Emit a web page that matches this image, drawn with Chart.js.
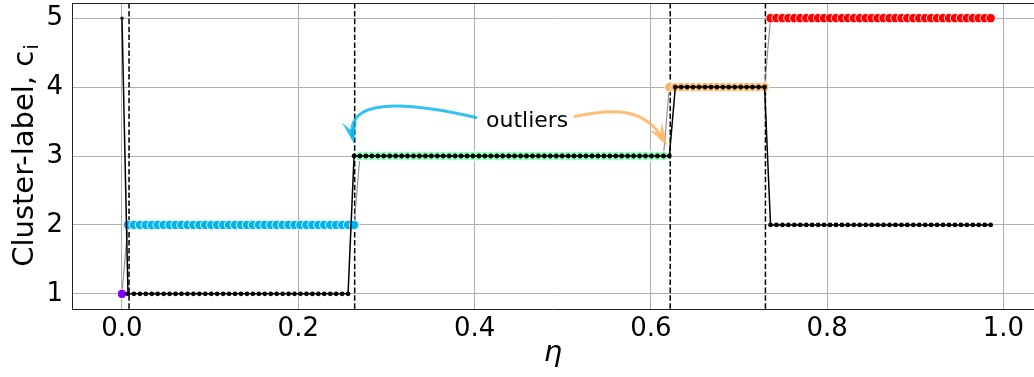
<!DOCTYPE html>
<html>
<head>
<meta charset="utf-8">
<script src="https://cdn.jsdelivr.net/npm/chart.js@4.4.1/dist/chart.umd.min.js"></script>
<style>
  html, body { margin: 0; padding: 0; background: #fff; overflow: hidden; }
  canvas { display: block; }
</style>
</head>
<body>
<canvas id="chart" width="1034" height="377"></canvas>
<script>
// eta values (one row = 8 points)
const eta = [
  0, 0.0068, 0.0135, 0.0203, 0.027, 0.0338, 0.0405, 0.0473,
  0.054, 0.0608, 0.0675, 0.0743, 0.081, 0.0878, 0.0945, 0.1013,
  0.108, 0.1148, 0.1215, 0.1283, 0.135, 0.1418, 0.1485, 0.1553,
  0.162, 0.1688, 0.1755, 0.1823, 0.189, 0.1958, 0.2025, 0.2093,
  0.216, 0.2228, 0.2295, 0.2363, 0.243, 0.2498, 0.2565, 0.2633,
  0.27, 0.2768, 0.2835, 0.2903, 0.297, 0.3038, 0.3105, 0.3173,
  0.324, 0.3308, 0.3375, 0.3443, 0.351, 0.3578, 0.3645, 0.3713,
  0.378, 0.3848, 0.3915, 0.3983, 0.405, 0.4118, 0.4185, 0.4253,
  0.432, 0.4388, 0.4455, 0.4523, 0.459, 0.4658, 0.4725, 0.4793,
  0.486, 0.4928, 0.4995, 0.5063, 0.513, 0.5198, 0.5265, 0.5333,
  0.54, 0.5468, 0.5535, 0.5603, 0.567, 0.5738, 0.5805, 0.5873,
  0.594, 0.6008, 0.6075, 0.6143, 0.621, 0.6278, 0.6345, 0.6413,
  0.648, 0.6548, 0.6615, 0.6683, 0.675, 0.6818, 0.6885, 0.6953,
  0.702, 0.7088, 0.7155, 0.7223, 0.729, 0.7358, 0.7425, 0.7493,
  0.756, 0.7628, 0.7695, 0.7763, 0.783, 0.7898, 0.7965, 0.8033,
  0.81, 0.8168, 0.8235, 0.8303, 0.837, 0.8438, 0.8505, 0.8573,
  0.864, 0.8708, 0.8775, 0.8843, 0.891, 0.8978, 0.9045, 0.9113,
  0.918, 0.9248, 0.9315, 0.9383, 0.945, 0.9518, 0.9585, 0.9653,
  0.972, 0.9788, 0.9855
];

// coloured markers: cluster label c_i
const clusterLabel = [
  1,2,2,2,2,2,2,2,
  2,2,2,2,2,2,2,2,
  2,2,2,2,2,2,2,2,
  2,2,2,2,2,2,2,2,
  2,2,2,2,2,2,2,2,
  3,3,3,3,3,3,3,3,
  3,3,3,3,3,3,3,3,
  3,3,3,3,3,3,3,3,
  3,3,3,3,3,3,3,3,
  3,3,3,3,3,3,3,3,
  3,3,3,3,3,3,3,3,
  3,3,3,3,4,4,4,4,
  4,4,4,4,4,4,4,4,
  4,4,4,4,4,5,5,5,
  5,5,5,5,5,5,5,5,
  5,5,5,5,5,5,5,5,
  5,5,5,5,5,5,5,5,
  5,5,5,5,5,5,5,5,
  5,5,5
];

// black line: the other labelling
const otherLabel = [
  5,1,1,1,1,1,1,1,
  1,1,1,1,1,1,1,1,
  1,1,1,1,1,1,1,1,
  1,1,1,1,1,1,1,1,
  1,1,1,1,1,1,1,3,
  3,3,3,3,3,3,3,3,
  3,3,3,3,3,3,3,3,
  3,3,3,3,3,3,3,3,
  3,3,3,3,3,3,3,3,
  3,3,3,3,3,3,3,3,
  3,3,3,3,3,3,3,3,
  3,3,3,3,3,4,4,4,
  4,4,4,4,4,4,4,4,
  4,4,4,4,4,2,2,2,
  2,2,2,2,2,2,2,2,
  2,2,2,2,2,2,2,2,
  2,2,2,2,2,2,2,2,
  2,2,2,2,2,2,2,2,
  2,2,2
];

const boundaries = [0.008, 0.264, 0.622, 0.730];
const labelColors = ['#8000ff', '#00b4ec', '#80ffb4', '#ffb462', '#ff0000'];

// annotation: "outliers" with two curved arrows (data coords)
const noteText = 'outliers';
const notePos = [0.413, 3.497];
const cyanArrow = [[0.4028, 3.555], [0.3154, 3.816], [0.2530, 3.816], [0.2632, 3.178]];
const orangeArrow = [[0.5128, 3.570], [0.5594, 3.700], [0.5934, 3.700], [0.6184, 3.149]];

const FONT = 'DejaVu Sans';

const extras = {
  id: 'extras',
  beforeDatasetsDraw(chart) {
    const { ctx, chartArea, scales: { x } } = chart;
    ctx.save();
    ctx.strokeStyle = '#000';
    ctx.lineWidth = 1.5;
    ctx.setLineDash([5.5, 2.4]);
    boundaries.forEach(b => {
      const px = x.getPixelForValue(b);
      ctx.beginPath();
      ctx.moveTo(px, chartArea.top);
      ctx.lineTo(px, chartArea.bottom);
      ctx.stroke();
    });
    ctx.restore();
  },
  afterDatasetsDraw(chart) {
    const { ctx, scales: { x, y } } = chart;
    const P = p => [x.getPixelForValue(p[0]), y.getPixelForValue(p[1])];

    function arrow(pts, color) {
      const [a, b, c, d] = pts.map(P);
      ctx.save();
      ctx.strokeStyle = color;
      ctx.fillStyle = color;
      ctx.lineWidth = 3;
      ctx.beginPath();
      ctx.moveTo(a[0], a[1]);
      ctx.bezierCurveTo(b[0], b[1], c[0], c[1], d[0] - (d[0]-c[0])*0.15, d[1] - (d[1]-c[1])*0.15);
      ctx.stroke();
      // head
      let dx = d[0] - c[0], dy = d[1] - c[1];
      const len = Math.hypot(dx, dy); dx /= len; dy /= len;
      const nx = -dy, ny = dx, L = 23, W = 7.5;
      ctx.beginPath();
      ctx.moveTo(d[0], d[1]);
      ctx.lineTo(d[0] - dx*L + nx*W, d[1] - dy*L + ny*W);
      ctx.lineTo(d[0] - dx*L*0.6, d[1] - dy*L*0.6);
      ctx.lineTo(d[0] - dx*L - nx*W, d[1] - dy*L - ny*W);
      ctx.closePath();
      ctx.fill();
      ctx.restore();
    }
    arrow(cyanArrow, 'rgba(0,180,236,0.8)');
    arrow(orangeArrow, 'rgba(255,180,98,0.85)');

    ctx.save();
    ctx.fillStyle = '#000';
    ctx.font = '22px ' + FONT;
    ctx.textAlign = 'left';
    ctx.textBaseline = 'middle';
    const t = P(notePos);
    ctx.fillText(noteText, t[0], t[1]);
    ctx.restore();
  },
  afterDraw(chart) {
    const { ctx, chartArea } = chart;
    ctx.save();
    // top spine
    ctx.strokeStyle = '#222';
    ctx.lineWidth = 1;
    ctx.beginPath();
    ctx.moveTo(chartArea.left, Math.round(chartArea.top) + 0.5);
    ctx.lineTo(chartArea.right, Math.round(chartArea.top) + 0.5);
    ctx.stroke();

    // y title with subscript
    ctx.fillStyle = '#000';
    ctx.translate(33, (chartArea.top + chartArea.bottom) / 2);
    ctx.rotate(-Math.PI / 2);
    ctx.textBaseline = 'alphabetic';
    ctx.textAlign = 'left';
    ctx.font = '29px ' + FONT;
    const main = 'Cluster-label, c';
    const w1 = ctx.measureText(main).width;
    ctx.font = '20px ' + FONT;
    const w2 = ctx.measureText('i').width;
    const start = -(w1 + w2) / 2;
    ctx.font = '29px ' + FONT;
    ctx.fillText(main, start, 0);
    ctx.font = '20px ' + FONT;
    ctx.fillText('i', start + w1 + 1, 5);
    ctx.restore();

    // x title
    ctx.save();
    ctx.fillStyle = '#000';
    ctx.font = 'italic 29px ' + FONT;
    ctx.textAlign = 'center';
    ctx.textBaseline = 'alphabetic';
    ctx.fillText('\u03b7', (chartArea.left + chartArea.right) / 2, 361);
    ctx.restore();
  }
};

const ctx = document.getElementById('chart').getContext('2d');
new Chart(ctx, {
  type: 'line',
  data: {
    datasets: [
      {
        label: 'other',
        data: eta.map((v, i) => ({ x: v, y: otherLabel[i] })),
        borderColor: '#000',
        borderWidth: 1.5,
        pointRadius: c => c.dataIndex === 0 ? 1.6 : 2.4,
        pointBackgroundColor: '#000',
        pointBorderWidth: 0,
        order: 0
      },
      {
        label: 'cluster',
        data: eta.map((v, i) => ({ x: v, y: clusterLabel[i] })),
        borderColor: 'rgba(120,120,120,0.8)',
        borderWidth: 1.2,
        pointRadius: 4.7,
        pointBackgroundColor: c => labelColors[clusterLabel[c.dataIndex] - 1],
        pointBorderColor: 'rgba(255,255,255,0.9)',
        pointBorderWidth: 1,
        order: 1
      }
    ]
  },
  options: {
    responsive: false,
    animation: false,
    devicePixelRatio: 1,
    layout: { autoPadding: false, padding: { top: 3, right: 0, left: 0, bottom: 0 } },
    plugins: { legend: { display: false }, tooltip: { enabled: false } },
    scales: {
      x: {
        type: 'linear',
        min: -0.0567,
        max: 1.0347,
        ticks: {
          stepSize: 0.2, includeBounds: false, padding: 5, color: '#000',
          maxRotation: 0, autoSkip: false,
          font: { family: FONT, size: 26 },
          callback: v => v.toFixed(1)
        },
        grid: { color: '#b0b0b0', lineWidth: 1, drawTicks: false },
        border: { color: '#222', width: 1 },
        afterFit: s => { s.height = 68; s.paddingLeft = 0; s.paddingRight = 0; }
      },
      y: {
        min: 0.78,
        max: 5.22,
        ticks: {
          stepSize: 1, includeBounds: false, padding: 9, color: '#000',
          font: { family: FONT, size: 26 }
        },
        grid: { color: '#b0b0b0', lineWidth: 1, drawTicks: false },
        border: { color: '#222', width: 1 },
        afterFit: s => { s.width = 72; s.paddingTop = 0; s.paddingBottom = 0; }
      }
    }
  },
  plugins: [extras]
});
</script>
</body>
</html>
